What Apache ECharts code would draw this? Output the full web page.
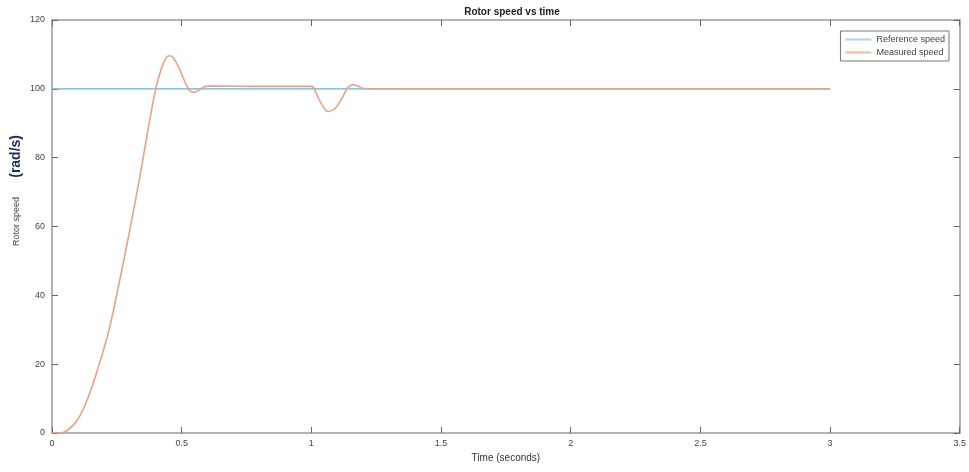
<!DOCTYPE html>
<html>
<head>
<meta charset="utf-8">
<script src="https://cdn.jsdelivr.net/npm/echarts@6/dist/echarts.min.js"></script>
<style>
  html, body { margin: 0; padding: 0; background: #fff; }
  #rotorChart { width: 969px; height: 472px; }
</style>
</head>
<body>
<div id="rotorChart"></div>
<script>
// time axis (s) for measured speed
var timeData = [0, 0.03, 0.06, 0.1, 0.14, 0.18, 0.22, 0.26, 0.3, 0.34, 0.37, 0.4, 0.42, 0.44, 0.455, 0.47, 0.49, 0.51, 0.53, 0.545, 0.56, 0.58, 0.6, 0.65, 0.8, 1.0, 1.02, 1.04, 1.065, 1.09, 1.12, 1.14, 1.16, 1.18, 1.2, 1.25, 1.5, 2, 2.5, 3]
var measuredData = [0, 0, 0.8, 4, 10.5, 19.5, 30, 44, 59, 75, 88, 100, 105.5, 109, 109.6, 108.8, 106, 102.5, 99.6, 99, 99.3, 100.3, 100.8, 100.8, 100.7, 100.7, 98.5, 95.5, 93.4, 94.2, 97.5, 100.3, 101.2, 100.8, 100.1, 100, 100, 100, 100, 100]
var refTime = [0, 3]
var refData = [100, 100]
var xTicks = [0, 0.5, 1, 1.5, 2, 2.5, 3, 3.5]
var yTicks = [0, 20, 40, 60, 80, 100, 120]

function pairs(xs, ys) {
  return xs.map(function(x, i) { return [x, ys[i]] })
}

var axisColor = '#9a9a9a'
var tickStyle = { show: true, inside: true, length: 6, lineStyle: { color: '#666' } }
var lineStyleAxis = { show: true, onZero: false, lineStyle: { color: axisColor, width: 1.5 } }
var chart = echarts.init(document.getElementById('rotorChart'))
var option = {
  animation: false,
  title: {
    text: 'Rotor speed vs time',
    left: 507,
    textAlign: 'center',
    top: 2,
    textStyle: { fontFamily: 'Liberation Sans', fontSize: 10, fontWeight: 'bold', color: '#222' }
  },
  legend: {
    orient: 'vertical',
    right: 20,
    top: 31,
    itemWidth: 26,
    itemHeight: 2,
    itemGap: 4,
    padding: [4, 4, 4, 5],
    borderColor: '#777',
    borderWidth: 1,
    backgroundColor: '#fff',
    icon: 'rect',
    textStyle: { fontFamily: 'Liberation Sans', fontSize: 9, color: '#444' },
    data: [
      { name: 'Reference speed', itemStyle: { color: '#a9d6ec' } },
      { name: 'Measured speed', itemStyle: { color: '#f0bc98' } }
    ]
  },
  grid: { left: 52, right: 8, top: 20, bottom: 39 },
  xAxis: [
    {
      type: 'value',
      position: 'bottom',
      min: xTicks[0],
      max: xTicks[xTicks.length - 1],
      interval: 0.5,
      name: 'Time (seconds)',
      nameLocation: 'middle',
      nameGap: 20,
      nameTextStyle: { fontFamily: 'Liberation Sans', fontSize: 10, color: '#333' },
      axisLine: lineStyleAxis,
      axisTick: tickStyle,
      axisLabel: { fontFamily: 'Liberation Sans', fontSize: 9, color: '#444', margin: 6 },
      splitLine: { show: false }
    },
    {
      type: 'value',
      position: 'top',
      min: xTicks[0],
      max: xTicks[xTicks.length - 1],
      interval: 0.5,
      axisLine: lineStyleAxis,
      axisTick: tickStyle,
      axisLabel: { show: false },
      splitLine: { show: false }
    }
  ],
  yAxis: [
    {
      type: 'value',
      position: 'left',
      min: yTicks[0],
      max: yTicks[yTicks.length - 1],
      interval: 20,
      axisLine: lineStyleAxis,
      axisTick: tickStyle,
      axisLabel: { fontFamily: 'Liberation Sans', fontSize: 9, color: '#444', margin: 7 },
      splitLine: { show: false }
    },
    {
      type: 'value',
      position: 'right',
      min: yTicks[0],
      max: yTicks[yTicks.length - 1],
      interval: 20,
      axisLine: lineStyleAxis,
      axisTick: tickStyle,
      axisLabel: { show: false },
      splitLine: { show: false }
    }
  ],
  graphic: [
    {
      type: 'text',
      left: 9,
      top: 135,
      rotation: Math.PI / 2,
      style: {
        text: '(rad/s)',
        fontFamily: 'Liberation Sans',
        fontSize: 14,
        fontWeight: 'bold',
        fill: '#1d2a5a'
      }
    },
    {
      type: 'text',
      left: 12,
      top: 197,
      rotation: Math.PI / 2,
      style: {
        text: 'Rotor speed',
        fontFamily: 'Liberation Sans',
        fontSize: 9,
        fill: '#444'
      }
    }
  ],
  series: [
    {
      name: 'Reference speed',
      type: 'line',
      data: pairs(refTime, refData),
      showSymbol: false,
      lineStyle: { color: '#5ab4e0', width: 1.3 },
      itemStyle: { color: '#5ab4e0' },
      z: 2
    },
    {
      name: 'Measured speed',
      type: 'line',
      data: pairs(timeData, measuredData),
      showSymbol: false,
      smooth: 0.4,
      lineStyle: { color: '#e8a382', width: 1.6 },
      itemStyle: { color: '#e8a382' },
      z: 3
    }
  ]
}
chart.setOption(option)
</script>
</body>
</html>
